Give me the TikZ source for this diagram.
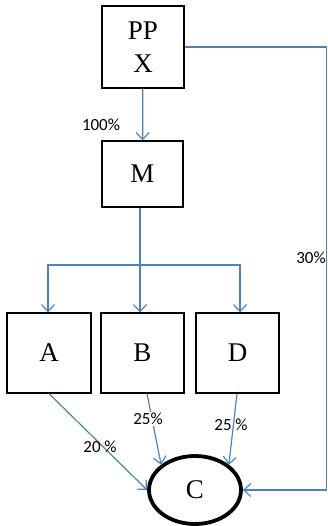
\documentclass[tikz,border=0pt]{standalone}
\usepackage{fontspec}
\setmainfont{Liberation Serif}
\newfontfamily\pctfont{Carlito}
\usetikzlibrary{arrows.meta,shapes.geometric}
\definecolor{linkblue}{RGB}{79,129,189}

\tikzset{
	unitbox/.style={draw, line width=1.2pt, inner sep=0pt, align=center,
		font=\fontsize{27}{33}\selectfont},
	flow/.style={linkblue, line width=1.2pt, -{Straight Barb[length=7pt,width=13pt]}},
	pct/.style={font=\pctfont\fontsize{17}{18}\selectfont, inner sep=1pt}
}

\begin{document}
\begin{tikzpicture}[x=1pt, y=-1pt]
	\useasboundingbox (0,0) rectangle (328,526);

	% boxes
	\node[unitbox, minimum width=82pt, minimum height=82pt] (ppx) at (143,47) {PP\\X};
	\node[unitbox, minimum width=81pt, minimum height=66pt] (m) at (142.5,174) {M};
	\node[unitbox, minimum width=84pt, minimum height=80pt] (a) at (49,353) {A};
	\node[unitbox, minimum width=83pt, minimum height=80pt] (b) at (142.5,353) {B};
	\node[unitbox, minimum width=83pt, minimum height=80pt] (d) at (237.5,353) {D};
	\node[draw, ellipse, line width=3.8pt, minimum width=92pt, minimum height=68pt,
		inner sep=0pt, font=\fontsize{27}{30}\selectfont] (c) at (195,490) {C};

	\coordinate (split) at (140,265);
	\coordinate (rt) at (326.5,47);

	% connectors
	\draw[flow] (ppx) -- (m);
	\draw[linkblue, line width=1.2pt] (m.south -| split) -- (split);
	\draw[flow] (split) -| ([xshift=-1pt]a.north);
	\draw[flow] (split) -- (split |- b.north);
	\draw[flow] (split) -| ([xshift=2.5pt]d.north);
	\draw[flow] (ppx.east) -- (rt) |- (c.east);

	\draw[flow] (a.south) -- (c.west);
	\draw[flow] ([xshift=4.5pt]b.south) -- (c.north west);
	\draw[flow] ([xshift=-0.5pt]d.south) -- (c.north east);

	% labels
	\node[pct] (l100) at (101,125) {100\%};
	\node[pct] (l30) at (311,258) {30\%};
	\node[pct] (l20) at (100,447) {20 \%};
	\node[pct, fill=white] (l25b) at (148,419) {25\%};
	\node[pct] (l25d) at (231,425) {25 \%};
\end{tikzpicture}
\end{document}
